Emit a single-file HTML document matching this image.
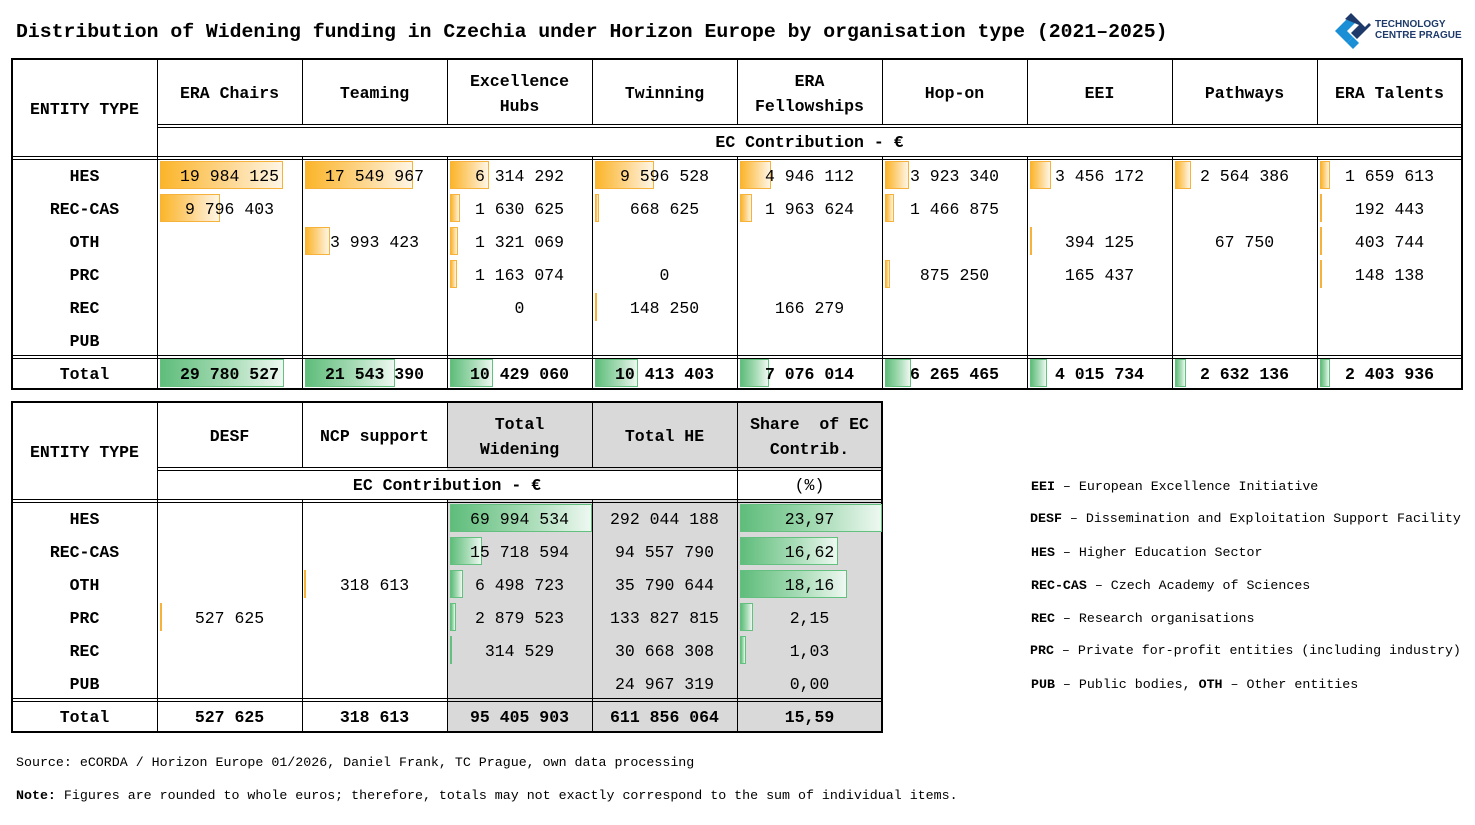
<!DOCTYPE html>
<html><head><meta charset="utf-8"><style>
body{margin:0;width:1475px;height:825px;background:#fff;position:relative;overflow:hidden;font-family:"Liberation Mono",monospace;color:#000}
div{position:absolute;box-sizing:border-box}
.c{width:145px;text-align:center;font-size:16.5px;line-height:20px;white-space:pre;margin-top:1px}
.h{font-weight:bold}
.vl{width:1px;background:#000}
.hl{height:1px;background:#000}
.o{height:28px;border:1px solid #f6b23a;background:linear-gradient(to right,#fbb52a 0%,#fdd385 50%,#fff6e6 100%)}
.g{height:28px;border:1px solid #63c07f;background:linear-gradient(to right,#5fbd7b 0%,#a6dbb5 55%,#eef8f1 100%)}
.lg{left:1031px;font-size:13.3px;line-height:16px;white-space:pre;margin-top:1px}
.grey{background:#d9d9d9}
</style></head><body>
<div style="left:16px;top:20px;font-size:19.8px;font-weight:bold;line-height:24px;white-space:pre">Distribution of Widening funding in Czechia under Horizon Europe by organisation type (2021–2025)</div>
<svg style="position:absolute;left:1333px;top:11px" width="40" height="40" viewBox="0 0 40 40">
<polygon points="2,20 18,4 24,10 14,20 20,26 14,32" fill="#1b8fd6"/>
<polygon points="14,32 20,26 26,32 20,38" fill="#1b8fd6"/>
<polygon points="12,8 18,2 32,16 36,12 38,14 24,28 18,22 26,14" fill="#1e3a6b"/>
</svg>
<div style="left:1375px;top:19px;font-family:'Liberation Sans',sans-serif;font-weight:bold;font-size:10px;line-height:11px;color:#1e3a6b">TECHNOLOGY<br>CENTRE PRAGUE</div>

<!-- TABLE 1 -->
<div style="left:11px;top:58px;width:1452px;height:332px;border:2px solid #000"></div>
<div class="vl" style="left:157px;top:59px;height:330px"></div>
<div class="vl" style="left:302px;top:59px;height:66px"></div><div class="vl" style="left:302px;top:157px;height:232px"></div>
<div class="vl" style="left:447px;top:59px;height:66px"></div><div class="vl" style="left:447px;top:157px;height:232px"></div>
<div class="vl" style="left:592px;top:59px;height:66px"></div><div class="vl" style="left:592px;top:157px;height:232px"></div>
<div class="vl" style="left:737px;top:59px;height:66px"></div><div class="vl" style="left:737px;top:157px;height:232px"></div>
<div class="vl" style="left:882px;top:59px;height:66px"></div><div class="vl" style="left:882px;top:157px;height:232px"></div>
<div class="vl" style="left:1027px;top:59px;height:66px"></div><div class="vl" style="left:1027px;top:157px;height:232px"></div>
<div class="vl" style="left:1172px;top:59px;height:66px"></div><div class="vl" style="left:1172px;top:157px;height:232px"></div>
<div class="vl" style="left:1317px;top:59px;height:66px"></div><div class="vl" style="left:1317px;top:157px;height:232px"></div>
<div class="hl" style="left:157px;top:124px;width:1305px"></div><div class="hl" style="left:157px;top:127px;width:1305px"></div>
<div class="hl" style="left:12px;top:156px;width:1450px"></div><div class="hl" style="left:12px;top:159px;width:1450px"></div>
<div class="hl" style="left:12px;top:355px;width:1450px"></div><div class="hl" style="left:12px;top:358px;width:1450px"></div>

<div class="c h" style="left:12px;top:99px">ENTITY TYPE</div>
<div class="c h" style="left:157px;top:83px">ERA Chairs</div>
<div class="c h" style="left:302px;top:83px">Teaming</div>
<div class="c h" style="left:447px;top:71px">Excellence</div><div class="c h" style="left:447px;top:96px">Hubs</div>
<div class="c h" style="left:592px;top:83px">Twinning</div>
<div class="c h" style="left:737px;top:71px">ERA</div><div class="c h" style="left:737px;top:96px">Fellowships</div>
<div class="c h" style="left:882px;top:83px">Hop-on</div>
<div class="c h" style="left:1027px;top:83px">EEI</div>
<div class="c h" style="left:1172px;top:83px">Pathways</div>
<div class="c h" style="left:1317px;top:83px">ERA Talents</div>
<div class="c h" style="left:157px;top:132px;width:1305px">EC Contribution - €</div>

<div class="c h" style="left:12px;top:166px">HES</div>
<div class="c h" style="left:12px;top:199px">REC-CAS</div>
<div class="c h" style="left:12px;top:232px">OTH</div>
<div class="c h" style="left:12px;top:265px">PRC</div>
<div class="c h" style="left:12px;top:298px">REC</div>
<div class="c h" style="left:12px;top:331px">PUB</div>
<div class="c h" style="left:12px;top:364px">Total</div>

<!-- bars t1 -->
<div class="o" style="left:160px;top:161px;width:123px"></div>
<div class="o" style="left:160px;top:194px;width:60px"></div>
<div class="o" style="left:305px;top:161px;width:108px"></div>
<div class="o" style="left:305px;top:227px;width:25px"></div>
<div class="o" style="left:450px;top:161px;width:39px"></div>
<div class="o" style="left:450px;top:194px;width:10px"></div>
<div class="o" style="left:450px;top:227px;width:8px"></div>
<div class="o" style="left:450px;top:260px;width:7px"></div>
<div class="o" style="left:595px;top:161px;width:59px"></div>
<div class="o" style="left:595px;top:194px;width:4px"></div>
<div class="o" style="left:595px;top:293px;width:1px"></div>
<div class="o" style="left:740px;top:161px;width:31px"></div>
<div class="o" style="left:740px;top:194px;width:12px"></div>
<div class="o" style="left:885px;top:161px;width:24px"></div>
<div class="o" style="left:885px;top:194px;width:9px"></div>
<div class="o" style="left:885px;top:260px;width:5px"></div>
<div class="o" style="left:1030px;top:161px;width:21px"></div>
<div class="o" style="left:1030px;top:227px;width:2px"></div>
<div class="o" style="left:1175px;top:161px;width:16px"></div>
<div class="o" style="left:1320px;top:161px;width:10px"></div>
<div class="o" style="left:1320px;top:194px;width:1px"></div>
<div class="o" style="left:1320px;top:227px;width:2px"></div>
<div class="o" style="left:1320px;top:260px;width:1px"></div>
<div class="g" style="left:160px;top:359px;width:124px"></div>
<div class="g" style="left:305px;top:359px;width:90px"></div>
<div class="g" style="left:450px;top:359px;width:43px"></div>
<div class="g" style="left:595px;top:359px;width:43px"></div>
<div class="g" style="left:740px;top:359px;width:29px"></div>
<div class="g" style="left:885px;top:359px;width:26px"></div>
<div class="g" style="left:1030px;top:359px;width:17px"></div>
<div class="g" style="left:1175px;top:359px;width:11px"></div>
<div class="g" style="left:1320px;top:359px;width:10px"></div>

<div class="c" style="left:157px;top:166px">19 984 125</div>
<div class="c" style="left:157px;top:199px">9 796 403</div>
<div class="c" style="left:302px;top:166px">17 549 967</div>
<div class="c" style="left:302px;top:232px">3 993 423</div>
<div class="c" style="left:447px;top:166px">6 314 292</div>
<div class="c" style="left:447px;top:199px">1 630 625</div>
<div class="c" style="left:447px;top:232px">1 321 069</div>
<div class="c" style="left:447px;top:265px">1 163 074</div>
<div class="c" style="left:447px;top:298px">0</div>
<div class="c" style="left:592px;top:166px">9 596 528</div>
<div class="c" style="left:592px;top:199px">668 625</div>
<div class="c" style="left:592px;top:265px">0</div>
<div class="c" style="left:592px;top:298px">148 250</div>
<div class="c" style="left:737px;top:166px">4 946 112</div>
<div class="c" style="left:737px;top:199px">1 963 624</div>
<div class="c" style="left:737px;top:298px">166 279</div>
<div class="c" style="left:882px;top:166px">3 923 340</div>
<div class="c" style="left:882px;top:199px">1 466 875</div>
<div class="c" style="left:882px;top:265px">875 250</div>
<div class="c" style="left:1027px;top:166px">3 456 172</div>
<div class="c" style="left:1027px;top:232px">394 125</div>
<div class="c" style="left:1027px;top:265px">165 437</div>
<div class="c" style="left:1172px;top:166px">2 564 386</div>
<div class="c" style="left:1172px;top:232px">67 750</div>
<div class="c" style="left:1317px;top:166px">1 659 613</div>
<div class="c" style="left:1317px;top:199px">192 443</div>
<div class="c" style="left:1317px;top:232px">403 744</div>
<div class="c" style="left:1317px;top:265px">148 138</div>
<div class="c h" style="left:157px;top:364px">29 780 527</div>
<div class="c h" style="left:302px;top:364px">21 543 390</div>
<div class="c h" style="left:447px;top:364px">10 429 060</div>
<div class="c h" style="left:592px;top:364px">10 413 403</div>
<div class="c h" style="left:737px;top:364px">7 076 014</div>
<div class="c h" style="left:882px;top:364px">6 265 465</div>
<div class="c h" style="left:1027px;top:364px">4 015 734</div>
<div class="c h" style="left:1172px;top:364px">2 632 136</div>
<div class="c h" style="left:1317px;top:364px">2 403 936</div>

<!-- TABLE 2 -->
<div class="grey" style="left:447px;top:402px;width:435px;height:68px"></div>
<div class="grey" style="left:447px;top:500px;width:435px;height:232px"></div>
<div style="left:11px;top:401px;width:872px;height:332px;border:2px solid #000"></div>
<div class="vl" style="left:157px;top:402px;height:330px"></div>
<div class="vl" style="left:302px;top:402px;height:66px"></div><div class="vl" style="left:302px;top:500px;height:232px"></div>
<div class="vl" style="left:447px;top:402px;height:66px"></div><div class="vl" style="left:447px;top:500px;height:232px"></div>
<div class="vl" style="left:592px;top:402px;height:66px"></div><div class="vl" style="left:592px;top:500px;height:232px"></div>
<div class="vl" style="left:737px;top:402px;height:330px"></div>
<div class="hl" style="left:157px;top:467px;width:725px"></div><div class="hl" style="left:157px;top:470px;width:725px"></div>
<div class="hl" style="left:12px;top:499px;width:870px"></div><div class="hl" style="left:12px;top:502px;width:870px"></div>
<div class="hl" style="left:12px;top:698px;width:870px"></div><div class="hl" style="left:12px;top:701px;width:870px"></div>

<div class="c h" style="left:12px;top:442px">ENTITY TYPE</div>
<div class="c h" style="left:157px;top:426px">DESF</div>
<div class="c h" style="left:302px;top:426px">NCP support</div>
<div class="c h" style="left:447px;top:414px">Total</div><div class="c h" style="left:447px;top:439px">Widening</div>
<div class="c h" style="left:592px;top:426px">Total HE</div>
<div class="c h" style="left:737px;top:414px">Share  of EC</div><div class="c h" style="left:737px;top:439px">Contrib.</div>
<div class="c h" style="left:157px;top:475px;width:580px">EC Contribution - €</div>
<div class="c" style="left:737px;top:475px">(%)</div>

<div class="c h" style="left:12px;top:509px">HES</div>
<div class="c h" style="left:12px;top:542px">REC-CAS</div>
<div class="c h" style="left:12px;top:575px">OTH</div>
<div class="c h" style="left:12px;top:608px">PRC</div>
<div class="c h" style="left:12px;top:641px">REC</div>
<div class="c h" style="left:12px;top:674px">PUB</div>
<div class="c h" style="left:12px;top:707px">Total</div>

<div class="o" style="left:160px;top:603px;width:2px"></div>
<div class="o" style="left:304px;top:570px;width:1px"></div>
<div class="g" style="left:450px;top:504px;width:142px"></div>
<div class="g" style="left:450px;top:537px;width:32px"></div>
<div class="g" style="left:450px;top:570px;width:13px"></div>
<div class="g" style="left:450px;top:603px;width:6px"></div>
<div class="g" style="left:450px;top:636px;width:1px"></div>
<div class="g" style="left:740px;top:504px;width:142px"></div>
<div class="g" style="left:740px;top:537px;width:98px"></div>
<div class="g" style="left:740px;top:570px;width:107px"></div>
<div class="g" style="left:740px;top:603px;width:13px"></div>
<div class="g" style="left:740px;top:636px;width:6px"></div>

<div class="c" style="left:157px;top:608px">527 625</div>
<div class="c" style="left:302px;top:575px">318 613</div>
<div class="c" style="left:447px;top:509px">69 994 534</div>
<div class="c" style="left:447px;top:542px">15 718 594</div>
<div class="c" style="left:447px;top:575px">6 498 723</div>
<div class="c" style="left:447px;top:608px">2 879 523</div>
<div class="c" style="left:447px;top:641px">314 529</div>
<div class="c" style="left:592px;top:509px">292 044 188</div>
<div class="c" style="left:592px;top:542px">94 557 790</div>
<div class="c" style="left:592px;top:575px">35 790 644</div>
<div class="c" style="left:592px;top:608px">133 827 815</div>
<div class="c" style="left:592px;top:641px">30 668 308</div>
<div class="c" style="left:592px;top:674px">24 967 319</div>
<div class="c" style="left:737px;top:509px">23,97</div>
<div class="c" style="left:737px;top:542px">16,62</div>
<div class="c" style="left:737px;top:575px">18,16</div>
<div class="c" style="left:737px;top:608px">2,15</div>
<div class="c" style="left:737px;top:641px">1,03</div>
<div class="c" style="left:737px;top:674px">0,00</div>
<div class="c h" style="left:157px;top:707px">527 625</div>
<div class="c h" style="left:302px;top:707px">318 613</div>
<div class="c h" style="left:447px;top:707px">95 405 903</div>
<div class="c h" style="left:592px;top:707px">611 856 064</div>
<div class="c h" style="left:737px;top:707px">15,59</div>

<!-- legend -->
<div class="lg" style="top:478px"><b>EEI</b> – European Excellence Initiative</div>
<div class="lg" style="top:510px;left:1030px"><b>DESF</b> – Dissemination and Exploitation Support Facility</div>
<div class="lg" style="top:544px"><b>HES</b> – Higher Education Sector</div>
<div class="lg" style="top:577px"><b>REC-CAS</b> – Czech Academy of Sciences</div>
<div class="lg" style="top:610px"><b>REC</b> – Research organisations</div>
<div class="lg" style="top:642px;left:1030px"><b>PRC</b> – Private for-profit entities (including industry)</div>
<div class="lg" style="top:676px"><b>PUB</b> – Public bodies, <b>OTH</b> – Other entities</div>

<div class="lg" style="left:16px;top:754px">Source: eCORDA / Horizon Europe 01/2026, Daniel Frank, TC Prague, own data processing</div>
<div class="lg" style="left:16px;top:787px"><b>Note:</b> Figures are rounded to whole euros; therefore, totals may not exactly correspond to the sum of individual items.</div>
</body></html>
